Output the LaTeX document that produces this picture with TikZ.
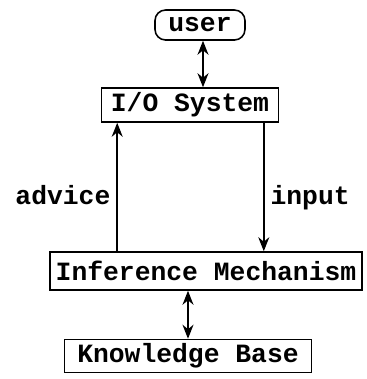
\documentclass[tikz,border=0pt]{standalone}
\usepackage{fontspec}
\setmonofont{Liberation Mono}
\usetikzlibrary{arrows.meta}
\tikzset{
  box/.style={draw, line width=0.9pt, inner sep=0pt, font=\ttfamily\bfseries\fontsize{15}{18}\selectfont},
  arr/.style={->, >={Stealth[length=2.8mm,width=2.2mm]}, line width=1.1pt},
  lbl/.style={font=\ttfamily\bfseries\fontsize{15}{18}\selectfont}
}
\begin{document}
\begin{tikzpicture}
        \useasboundingbox (0,0) rectangle (7.32,-7.58);
        \node[box, rounded corners=6pt, minimum width=1.8cm, minimum height=0.6cm] at (4.0,-0.5) (user) {user};
        \node[box, minimum width=3.54cm, minimum height=0.68cm] at (3.8,-2.1) (io) {I/O System};
        \node[box, minimum width=6.24cm, minimum height=0.76cm] at (4.12,-5.42) (inference) {Inference Mechanism};
        \node[box, minimum width=4.94cm, minimum height=0.66cm] at (3.76,-7.12) (knowledge) {Knowledge Base};
        \draw[arr, <->] ([xshift=0.6mm]user.south) -- ([xshift=0.6mm]user.south |- io.north);
        \draw[arr] ([xshift=13.6mm]inference.north west) -- ([xshift=13.6mm]inference.north west |- io.south) node[lbl, left, pos=0.44] {advice};
        \draw[arr] ([xshift=-3.1mm]io.south east) -- ([xshift=-3.1mm]io.south east |- inference.north) node[lbl, right, pos=0.58] {input};
        \draw[arr, <->] ([xshift=-3.6mm]inference.south) -- ([xshift=-3.6mm]inference.south |- knowledge.north);
      \end{tikzpicture}
\end{document}
